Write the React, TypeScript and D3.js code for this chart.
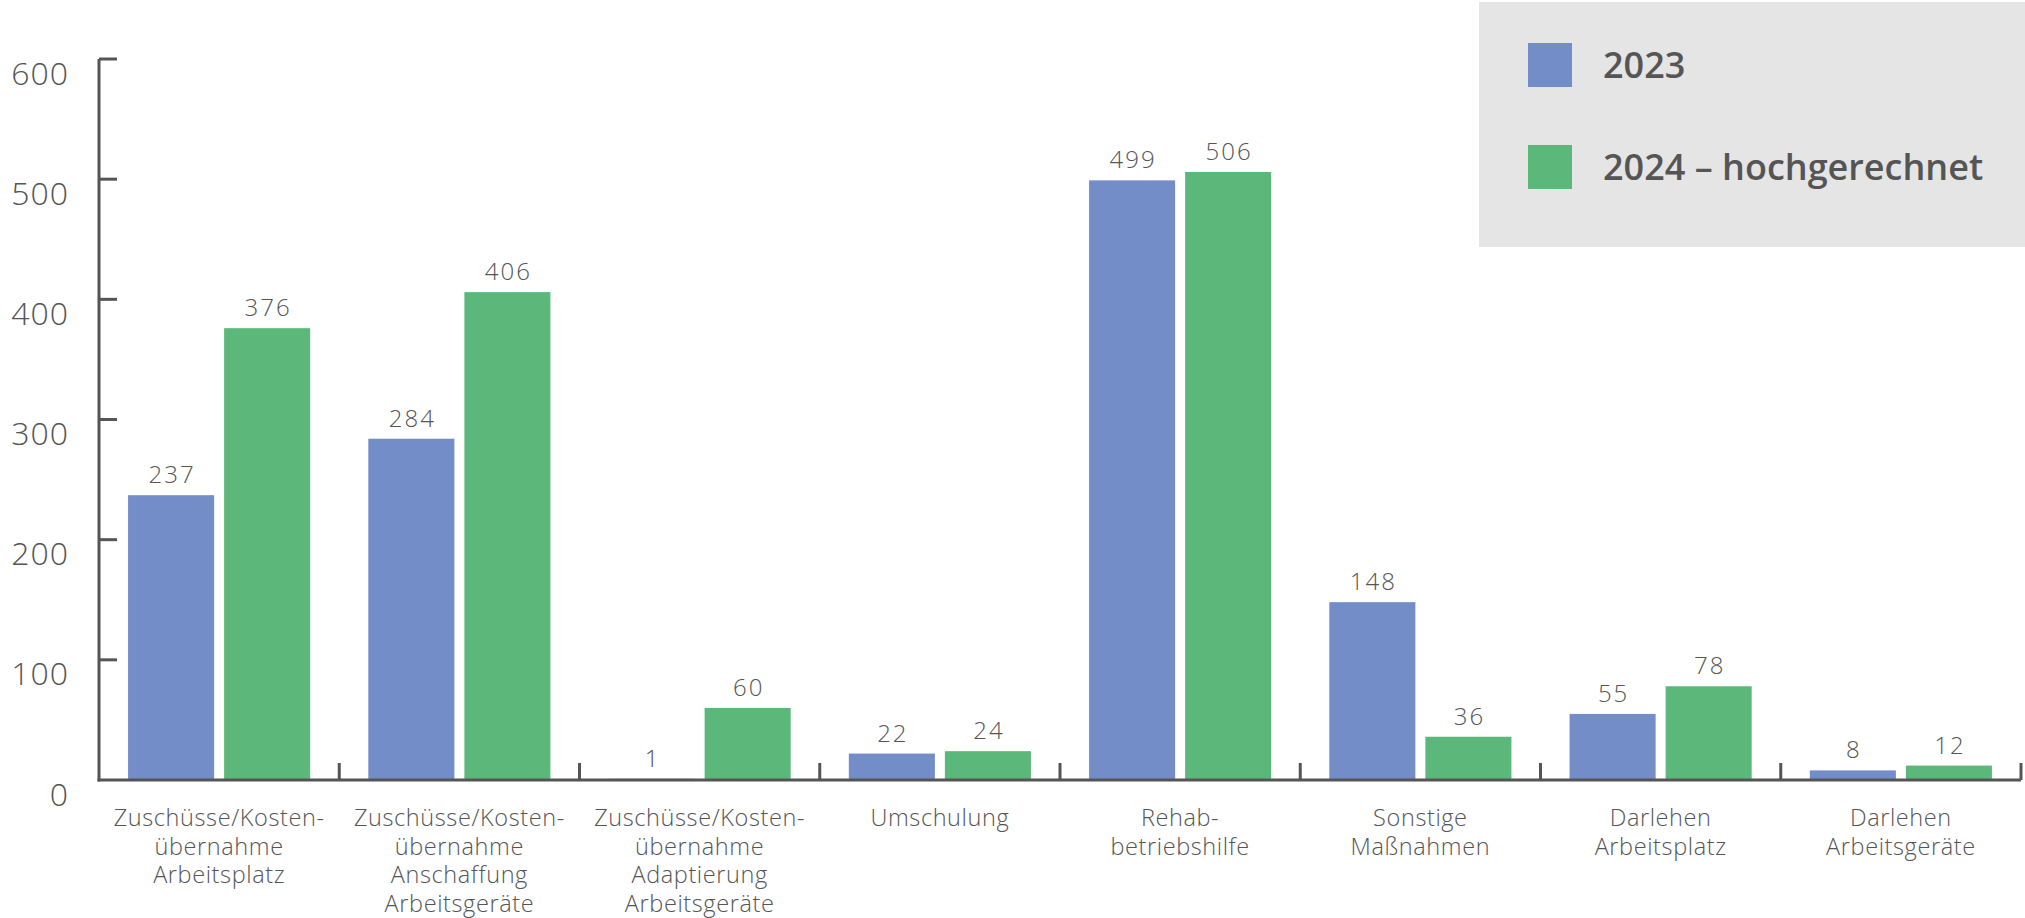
import React, { useEffect } from "react";
import * as d3 from "d3";

const categories = [
  ["Zuschüsse/Kosten-", "übernahme", "Arbeitsplatz"],
  ["Zuschüsse/Kosten-", "übernahme", "Anschaffung", "Arbeitsgeräte"],
  ["Zuschüsse/Kosten-", "übernahme", "Adaptierung", "Arbeitsgeräte"],
  ["Umschulung"],
  ["Rehab-", "betriebshilfe"],
  ["Sonstige", "Maßnahmen"],
  ["Darlehen", "Arbeitsplatz"],
  ["Darlehen", "Arbeitsgeräte"],
];
const seriesNames = ["2023", "2024 – hochgerechnet"];
const values2023 = [237, 284, 1, 22, 499, 148, 55, 8];
const values2024 = [376, 406, 60, 24, 506, 36, 78, 12];
const yTicks = [0, 100, 200, 300, 400, 500, 600];

const colors = ["#728dc8", "#5cb87a"];
const textColor = "#555";
const axisColor = "#555";
const font = "'Open Sans', sans-serif";

const width = 2025;
const height = 918;
const marginLeft = 99;
const marginRight = 4;
const marginTop = 59;
const baseline = 780;

const App = () => {
  useEffect(() => {
    document.body.style.margin = "0";
  }, []);

  const keys = categories.map((c) => c.join(" "));
  const series = [values2023, values2024];

  const x0 = d3
    .scaleBand()
    .domain(keys)
    .range([marginLeft, width - marginRight])
    .paddingInner(0)
    .paddingOuter(0);
  const step = x0.bandwidth();
  const x1 = d3
    .scaleBand()
    .domain(seriesNames)
    .range([step * 0.121, step * 0.879])
    .paddingInner(0.104);

  const y = d3.scaleLinear([0, 600], [baseline, marginTop]);

  return (
    <svg
      width={width}
      height={height}
      viewBox={`0 0 ${width} ${height}`}
      style={{ display: "block", background: "#fff" }}
    >
      {/* legend box */}
      <rect x={1479} y={2} width={width - 1479} height={245} fill="#e5e5e5" />
      {seriesNames.map((s, i) => (
        <g key={s} transform={`translate(1528,${43 + i * 102})`}>
          <rect width={44} height={44} fill={colors[i]} />
          <text
            x={75}
            y={22}
            dy="0.36em"
            fontFamily={font}
            fontWeight={600}
            fontSize={36}
            fill={textColor}
          >
            {s}
          </text>
        </g>
      ))}

      {/* bars */}
      {keys.map((k, ci) => (
        <g key={k} transform={`translate(${x0(k)},0)`}>
          {seriesNames.map((s, si) => {
            const v = series[si][ci];
            const bx = x1(s)!;
            return (
              <g key={s}>
                <rect
                  x={bx}
                  y={y(v)}
                  width={x1.bandwidth()}
                  height={baseline - y(v)}
                  fill={colors[si]}
                />
                <text
                  x={bx + x1.bandwidth() / 2 + 1}
                  y={y(v) - 12}
                  textAnchor="middle"
                  fontFamily={font}
                  fontWeight={300}
                  fontSize={24}
                  letterSpacing={2}
                  fill={textColor}
                >
                  {v}
                </text>
              </g>
            );
          })}
        </g>
      ))}

      {/* y axis */}
      <line
        x1={marginLeft}
        x2={marginLeft}
        y1={y(600)}
        y2={baseline + 1.5}
        stroke={axisColor}
        strokeWidth={3}
      />
      {yTicks.map((t) => (
        <g key={t}>
          {t > 0 && (
            <line
              x1={marginLeft}
              x2={marginLeft + 18}
              y1={y(t)}
              y2={y(t)}
              stroke={axisColor}
              strokeWidth={3}
            />
          )}
          <text
            x={69}
            y={y(t) + 14}
            dy="0.36em"
            textAnchor="end"
            fontFamily={font}
            fontWeight={300}
            fontSize={32}
            letterSpacing={1}
            fill={textColor}
          >
            {t}
          </text>
        </g>
      ))}

      {/* x axis */}
      <line
        x1={marginLeft - 1.5}
        x2={width - marginRight}
        y1={baseline}
        y2={baseline}
        stroke={axisColor}
        strokeWidth={3}
      />
      {keys.map((k) => (
        <line
          key={k}
          x1={x0(k)! + step}
          x2={x0(k)! + step}
          y1={baseline}
          y2={baseline - 17}
          stroke={axisColor}
          strokeWidth={3}
        />
      ))}

      {/* category labels */}
      {categories.map((lines, ci) => (
        <text
          key={keys[ci]}
          x={x0(keys[ci])! + step / 2}
          y={826}
          textAnchor="middle"
          fontFamily={font}
          fontWeight={300}
          fontSize={23.5}
          letterSpacing={0.6}
          fill={textColor}
        >
          {lines.map((l, li) => (
            <tspan key={li} x={x0(keys[ci])! + step / 2} dy={li === 0 ? 0 : 28.7}>
              {l}
            </tspan>
          ))}
        </text>
      ))}
    </svg>
  );
};

export default App;
